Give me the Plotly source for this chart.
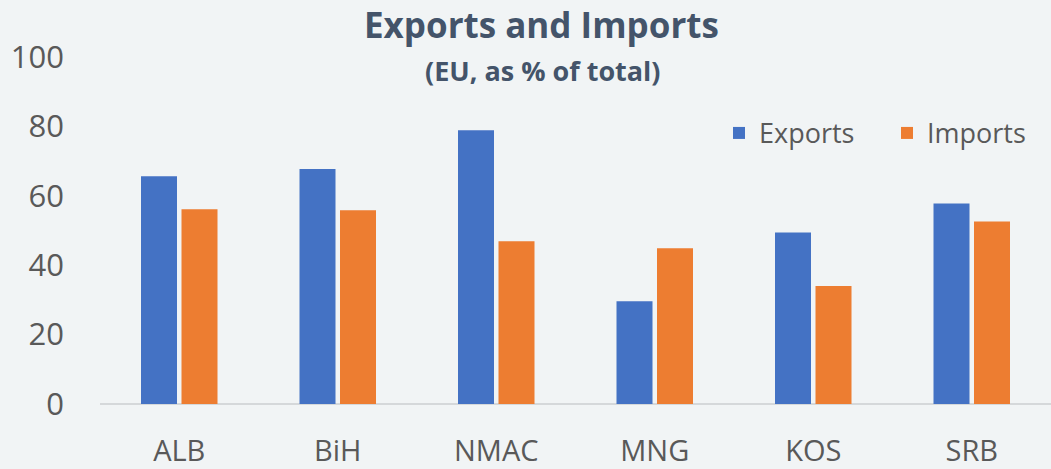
import plotly.graph_objects as go

categories = ["ALB", "BiH", "NMAC", "MNG", "KOS", "SRB"]
exports = [65.6, 67.7, 78.9, 29.6, 49.4, 57.8]
imports = [56.1, 55.8, 46.9, 44.9, 34.0, 52.6]
y_ticks = [0, 20, 40, 60, 80, 100]

BLUE = "#4472C4"
ORANGE = "#ED7D31"
TXT = "#595959"
TITLE = "#44546A"
FONT = "Open Sans"
BG = "#F1F4F5"

fig = go.Figure()
fig.add_trace(go.Bar(name="Exports", x=categories, y=exports, legend="legend",
                     marker=dict(color=BLUE, line=dict(width=0))))
fig.add_trace(go.Bar(name="Imports", x=categories, y=imports, legend="legend2",
                     marker=dict(color=ORANGE, line=dict(width=0))))

W, H = 1051, 469
L, R, T, B = 100, 0, 56.5, 65
pw = W - L - R
ph = H - T - B

def px_x(x):
    return (x - L) / pw

def px_y(y):
    return (H - B - y) / ph

legend_common = dict(
    orientation="h",
    yanchor="middle",
    y=px_y(133),
    xanchor="left",
    font=dict(family=FONT, size=27, color=TXT),
    bgcolor="rgba(0,0,0,0)",
    itemwidth=30,
)

fig.update_layout(
    width=W, height=H,
    autosize=False,
    margin=dict(l=L, r=R, t=T, b=B, pad=0, autoexpand=False),
    paper_bgcolor=BG,
    plot_bgcolor="rgba(0,0,0,0)",
    barmode="group",
    bargap=0.489,
    bargroupgap=0.111,
    font=dict(family=FONT, color=TXT),
    showlegend=True,
    legend=dict(x=px_x(719), **legend_common),
    legend2=dict(x=px_x(887), **legend_common),
    xaxis=dict(
        showgrid=False,
        showline=False,
        zeroline=False,
        ticks="",
        automargin=False,
        tickfont=dict(family=FONT, size=29, color=TXT),
        ticklabelstandoff=27,
    ),
    yaxis=dict(
        range=[0, 100],
        tickvals=y_ticks,
        showgrid=False,
        zeroline=True,
        zerolinecolor="#D5D8DA",
        zerolinewidth=2,
        showline=False,
        ticks="",
        automargin=False,
        tickfont=dict(family=FONT, size=31, color=TXT),
        ticklabelstandoff=35,
    ),
    annotations=[
        dict(text="<b>Exports and Imports</b>", xref="paper", yref="paper",
             x=px_x(541.5), y=px_y(24), xanchor="center", yanchor="middle",
             showarrow=False, font=dict(family=FONT, size=35, color=TITLE)),
        dict(text="<b>(EU, as % of total)</b>", xref="paper", yref="paper",
             x=px_x(542.5), y=px_y(70), xanchor="center", yanchor="middle",
             showarrow=False, font=dict(family=FONT, size=27, color=TITLE)),
    ],
)

fig.write_html(
    "out.html",
    config={"displayModeBar": False},
    post_script="document.body.style.margin='0';document.body.style.background='" + BG + "';",
)
